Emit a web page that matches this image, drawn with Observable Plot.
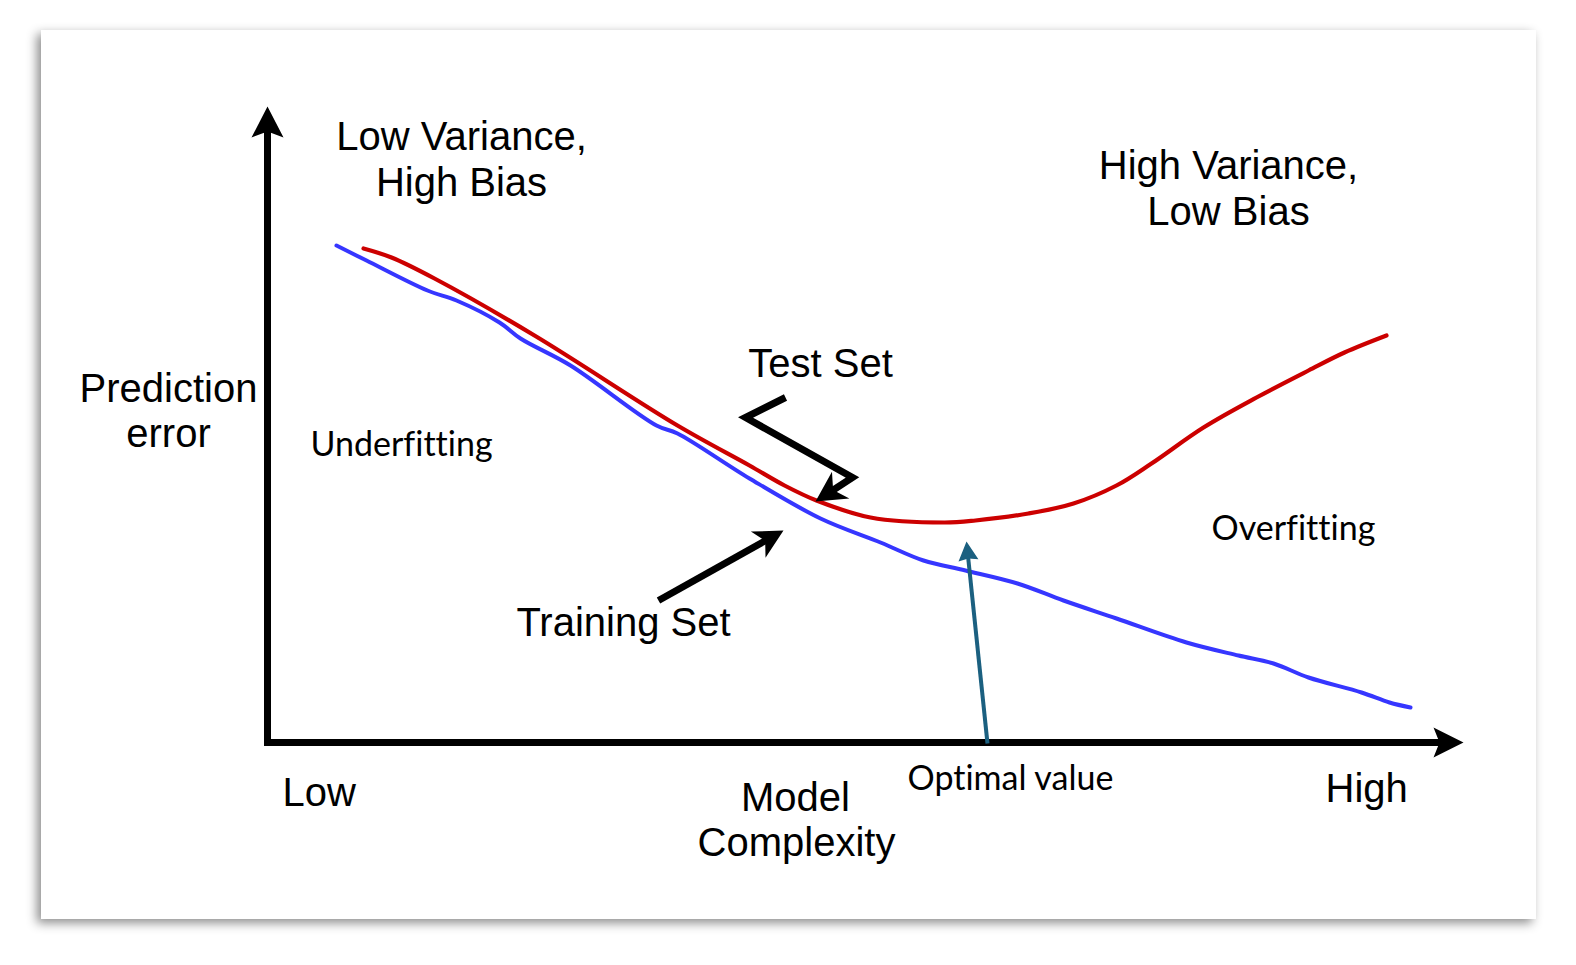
<!DOCTYPE html>
<html>
<head>
<meta charset="utf-8">
<script src="https://cdn.jsdelivr.net/npm/d3@7"></script>
<script src="https://cdn.jsdelivr.net/npm/@observablehq/plot@0.6"></script>
<style>
  html, body { margin: 0; padding: 0; background: #fff; width: 1576px; height: 965px; overflow: hidden; }
  #card { position: absolute; left: 41px; top: 30px; width: 1495px; height: 889px; background: #fff;
          box-shadow: -4px 4px 10px rgba(0,0,0,0.45); }
  #chart { position: absolute; left: 0; top: 0; }
  #chart svg text { font-variant-ligatures: none; font-feature-settings: "liga" 0, "clig" 0; }
</style>
</head>
<body>
<div id="card"></div>
<div id="chart"></div>
<script>
// ---- Data (model complexity vs prediction error, arbitrary units) ----
const trainComplexity = [1.38, 1.98, 3.20, 3.78, 4.64, 5.06, 6.06, 7.78, 8.20, 9.64, 11.06, 12.26, 13.12, 13.96, 15.00, 15.92, 16.98, 18.38, 19.42, 20.12, 20.82, 21.88, 22.44, 22.86];
const trainError      = [9.94, 9.64, 9.04, 8.84, 8.40, 8.08, 7.54, 6.34, 6.18, 5.28, 4.48, 4.00, 3.64, 3.44, 3.18, 2.84, 2.48, 2.00, 1.74, 1.58, 1.30, 1.00, 0.80, 0.70];
const testComplexity  = [1.92, 2.48, 3.34, 5.34, 8.20, 9.64, 10.34, 10.98, 12.06, 13.54, 14.16, 15.22, 16.12, 16.98, 17.68, 18.72, 19.78, 20.82, 21.54, 22.38];
const testError       = [9.88, 9.70, 9.28, 8.14, 6.34, 5.54, 5.14, 4.84, 4.50, 4.40, 4.44, 4.58, 4.78, 5.14, 5.58, 6.30, 6.90, 7.44, 7.80, 8.14];

// axis extents
const axisTop = 12.72;     // y-axis arrow tip
const axisRight = 23.92;   // x-axis arrow tip

// annotation arrows (from -> tip), in data units
const testArrowPath = [[10.36, 6.90], [9.56, 6.50], [11.70, 5.30]];
const testArrowTip = [10.96, 4.82];
const trainArrowFrom = [7.82, 2.84];
const trainArrowTip = [10.32, 4.24];
const optimalFrom = [14.40, -0.02];
const optimalTip = [13.98, 4.02];

// text labels
const labelsArial = [
  {t: "Low Variance,", x: 3.88, y: 11.86},
  {t: "High Bias", x: 3.88, y: 10.94},
  {t: "High Variance,", x: 19.22, y: 11.28},
  {t: "Low Bias", x: 19.22, y: 10.36},
  {t: "Prediction", x: -1.98, y: 6.82},
  {t: "error", x: -1.98, y: 5.92},
  {t: "Test Set", x: 11.06, y: 7.32},
  {t: "Training Set", x: 7.12, y: 2.14},
  {t: "Model", x: 10.56, y: -1.36},
  {t: "Complexity", x: 10.58, y: -2.26}
];
const labelsArialStart = [
  {t: "Low", x: 0.30, y: -1.26},
  {t: "High", x: 21.16, y: -1.18}
];
const labelsOther = [
  {t: "Underfitting", x: 0.86, y: 5.74},
  {t: "Overfitting", x: 18.88, y: 4.06},
  {t: "Optimal value", x: 12.80, y: -0.94}
];

// ---- helpers ----
const PX = 50; // pixels per data unit (both axes)
function headPoly(from, tip, len, half, notch) {
  const dx = tip[0] - from[0], dy = tip[1] - from[1], d = Math.hypot(dx, dy);
  const ux = dx / d, uy = dy / d, px = -uy, py = ux;
  const L = len / PX, W = half / PX, N = notch / PX;
  return [
    tip,
    [tip[0] - L * ux + W * px, tip[1] - L * uy + W * py],
    [tip[0] - (L - N) * ux, tip[1] - (L - N) * uy],
    [tip[0] - L * ux - W * px, tip[1] - L * uy - W * py],
    tip
  ];
}
function shaftEnd(from, tip, len) {
  const dx = tip[0] - from[0], dy = tip[1] - from[1], d = Math.hypot(dx, dy);
  const L = len * 0.6 / PX;
  return [tip[0] - dx / d * L, tip[1] - dy / d * L];
}
const pt = ([x, y]) => ({x, y});

const train = trainComplexity.map((x, i) => ({x, y: trainError[i]}));
const test = testComplexity.map((x, i) => ({x, y: testError[i]}));

const yHead = headPoly([0, 0], [0, axisTop], 31, 16, 6);
const xHead = headPoly([0, 0], [axisRight, 0], 30, 15, 6);
const axisPath = [[0, axisTop - 0.4], [0, 0], [axisRight - 0.45, 0]];

const testLast = testArrowPath[testArrowPath.length - 1];
const testShaft = [...testArrowPath, shaftEnd(testLast, testArrowTip, 30)];
const testHead = headPoly(testLast, testArrowTip, 30, 16, 9);
const trainShaft = [trainArrowFrom, shaftEnd(trainArrowFrom, trainArrowTip, 29)];
const trainHead = headPoly(trainArrowFrom, trainArrowTip, 29, 15, 8);
const optShaft = [optimalFrom, shaftEnd(optimalFrom, optimalTip, 19)];
const optHead = headPoly(optimalFrom, optimalTip, 19, 10, 2);

const arialFont = "'Liberation Sans', Arial, sans-serif";
const otherFont = "Lato, 'Open Sans', sans-serif";
const teal = "#1b6080";

const chart = Plot.plot({
  width: 1576,
  height: 965,
  marginLeft: 267,
  marginRight: 109,
  marginTop: 142,
  marginBottom: 223,
  x: {domain: [0, 24], axis: null},
  y: {domain: [0, 12], axis: null},
  style: {background: "transparent", overflow: "visible"},
  marks: [
    Plot.line(train, {x: "x", y: "y", stroke: "#3636ff", strokeWidth: 4, curve: "catmull-rom"}),
    Plot.line(test, {x: "x", y: "y", stroke: "#cc0000", strokeWidth: 4.2, curve: "catmull-rom"}),
    // axes
    Plot.line(axisPath.map(pt), {x: "x", y: "y", stroke: "#000", strokeWidth: 7, strokeLinejoin: "miter", strokeMiterlimit: 4, strokeLinecap: "butt"}),
    Plot.line(yHead.map(pt), {x: "x", y: "y", fill: "#000", stroke: "none"}),
    Plot.line(xHead.map(pt), {x: "x", y: "y", fill: "#000", stroke: "none"}),
    // Test set arrow
    Plot.line(testShaft.map(pt), {x: "x", y: "y", stroke: "#000", strokeWidth: 7, strokeLinejoin: "miter", strokeMiterlimit: 6, strokeLinecap: "butt"}),
    Plot.line(testHead.map(pt), {x: "x", y: "y", fill: "#000", stroke: "none"}),
    // Training set arrow
    Plot.line(trainShaft.map(pt), {x: "x", y: "y", stroke: "#000", strokeWidth: 7, strokeLinecap: "butt"}),
    Plot.line(trainHead.map(pt), {x: "x", y: "y", fill: "#000", stroke: "none"}),
    // Optimal value arrow
    Plot.line(optShaft.map(pt), {x: "x", y: "y", stroke: teal, strokeWidth: 4, strokeLinecap: "butt"}),
    Plot.line(optHead.map(pt), {x: "x", y: "y", fill: teal, stroke: "none"}),
    // labels
    Plot.text(labelsArial, {x: "x", y: "y", text: "t", fontSize: 40, fontFamily: arialFont, textAnchor: "middle", lineAnchor: "bottom", fill: "#000"}),
    Plot.text(labelsArialStart, {x: "x", y: "y", text: "t", fontSize: 40, fontFamily: arialFont, textAnchor: "start", lineAnchor: "bottom", fill: "#000"}),
    Plot.text(labelsOther, {x: "x", y: "y", text: "t", fontSize: 34, fontFamily: otherFont, textAnchor: "start", lineAnchor: "bottom", fill: "#000"})
  ]
});
document.getElementById("chart").appendChild(chart);
</script>
</body>
</html>
